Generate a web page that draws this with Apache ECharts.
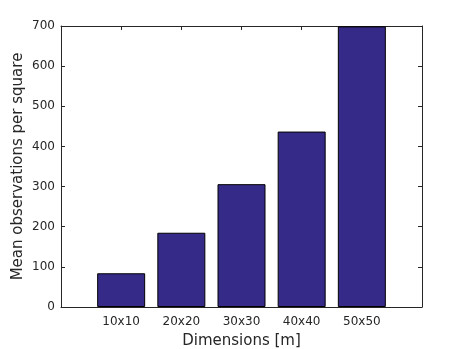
<!DOCTYPE html>
<html>
<head>
<meta charset="utf-8">
<script src="https://cdn.jsdelivr.net/npm/echarts@6/dist/echarts.min.js"></script>
<style>html,body{margin:0;padding:0;background:#fff;}#c{width:466px;height:349px;}</style>
</head>
<body>
<div id="c"></div>
<script>
const categories = ['10x10', '20x20', '30x30', '40x40', '50x50'];
const positions = [1, 2, 3, 4, 5];
const meanObs = [84, 185, 306, 437, 699];
const yTicks = [0, 100, 200, 300, 400, 500, 600, 700];

const chart = echarts.init(document.getElementById('c'), null, {renderer: 'canvas'});
const font = 'DejaVu Sans';
const axisCommon = {
  axisLine: {show: true, onZero: false, lineStyle: {color: '#262626', width: 1}},
  splitLine: {show: false}
};
chart.setOption({
  animation: false,
  backgroundColor: '#fff',
  grid: {left: 61, top: 26, right: 44, bottom: 42, containLabel: false, outerBoundsMode: 'none'},
  xAxis: [{
    type: 'value', min: 0, max: 6, interval: 1, position: 'bottom',
    ...axisCommon,
    axisTick: {show: true, inside: true, length: 4, lineStyle: {color: '#262626'}},
    axisLabel: {
      color: '#262626', fontFamily: font, fontSize: 12, margin: 9,
      showMinLabel: false, showMaxLabel: false,
      formatter: v => { const i = positions.indexOf(v); return i >= 0 ? categories[i] : ''; }
    },
    name: 'Dimensions [m]', nameLocation: 'middle', nameGap: 27, nameMoveOverlap: false,
    nameTextStyle: {color: '#262626', fontFamily: font, fontSize: 15}
  }, {
    type: 'value', min: 0, max: 6, interval: 1, position: 'top',
    ...axisCommon,
    axisTick: {show: true, inside: true, length: 4, lineStyle: {color: '#262626'}},
    axisLabel: {show: false}
  }],
  yAxis: [{
    type: 'value', min: yTicks[0], max: yTicks[yTicks.length - 1], interval: 100, position: 'left',
    ...axisCommon,
    axisTick: {show: true, inside: true, length: 4, lineStyle: {color: '#262626'}},
    axisLabel: {color: '#262626', fontFamily: font, fontSize: 12, margin: 6},
    name: 'Mean observations per square', nameLocation: 'middle', nameGap: 35, nameMoveOverlap: false,
    nameTextStyle: {color: '#262626', fontFamily: font, fontSize: 15}
  }, {
    type: 'value', min: yTicks[0], max: yTicks[yTicks.length - 1], interval: 100, position: 'right',
    ...axisCommon,
    axisTick: {show: true, inside: true, length: 4, lineStyle: {color: '#262626'}},
    axisLabel: {show: false}
  }],
  series: [{
    type: 'bar',
    xAxisIndex: 0, yAxisIndex: 0,
    data: positions.map((p, i) => [p, meanObs[i]]),
    barWidth: 48,
    itemStyle: {color: '#352a87', borderColor: '#000', borderWidth: 1},
    z: 1
  }]
});
</script>
</body>
</html>
